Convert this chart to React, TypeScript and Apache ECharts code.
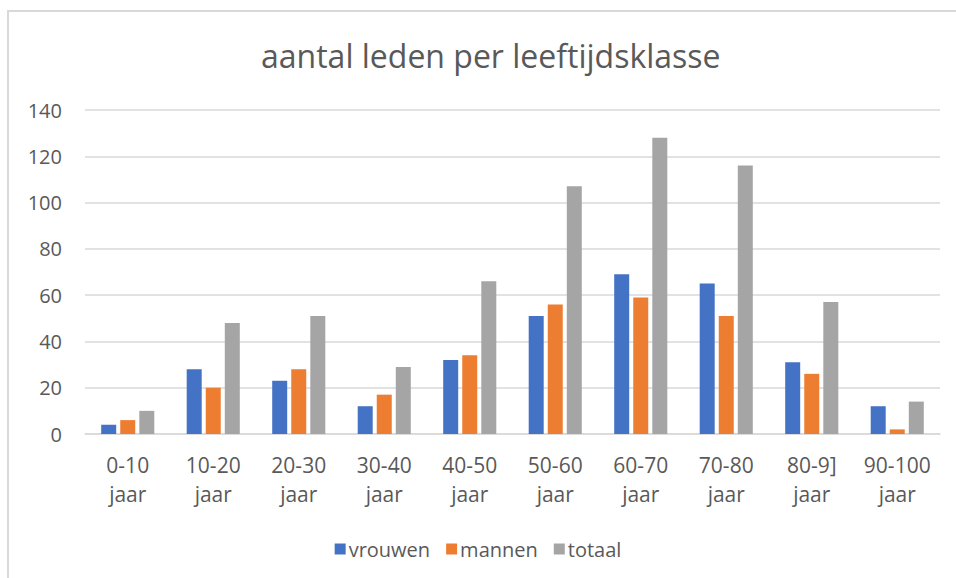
import React, { useEffect, useRef } from "react";
import * as echarts from "echarts";

const categories = [
  "0-10 jaar",
  "10-20 jaar",
  "20-30 jaar",
  "30-40 jaar",
  "40-50 jaar",
  "50-60 jaar",
  "60-70 jaar",
  "70-80 jaar",
  "80-9] jaar",
  "90-100 jaar",
];
const vrouwen = [4, 28, 23, 12, 32, 51, 69, 65, 31, 12];
const mannen = [6, 20, 28, 17, 34, 56, 59, 51, 26, 2];
const totaal = [10, 48, 51, 29, 66, 107, 128, 116, 57, 14];

const FONT = "'Open Sans', 'Noto Sans', sans-serif";
const TXT = "#595959";
const GRID = "#d9d9d9";

export default function App() {
  const ref = useRef<HTMLDivElement>(null);
  useEffect(() => {
    if (!ref.current) return;
    const chart = echarts.init(ref.current, undefined, { renderer: "svg" });
    const bar = (name: string, data: number[], color: string) => ({
      name,
      type: "bar",
      data,
      barWidth: 15,
      barGap: "27%",
      itemStyle: { color },
    });
    chart.setOption({
      animation: false,
      backgroundColor: "#ffffff",
      textStyle: { fontFamily: FONT },
      title: {
        text: "aantal leden per leeftijdsklasse",
        left: 256,
        top: 34,
        textStyle: { fontFamily: FONT, fontSize: 32, fontWeight: "normal", color: TXT },
      },
      graphic: [
        {
          type: "rect",
          shape: { x: 8, y: 11, width: 960, height: 600 },
          style: { fill: "none", stroke: GRID, lineWidth: 2 },
          silent: true,
        },
      ],
      legend: {
        top: 534,
        left: "center",
        icon: "rect",
        itemWidth: 11,
        itemHeight: 11,
        itemGap: 16,
        textStyle: { fontFamily: FONT, fontSize: 20, color: TXT, padding: [0, 0, 0, -2] },
        data: ["vrouwen", "mannen", "totaal"],
      },
      grid: { left: 85, right: 16, top: 110, bottom: 144 },
      xAxis: {
        type: "category",
        data: categories,
        axisTick: { show: false },
        axisLine: { lineStyle: { color: GRID, width: 1.5 } },
        axisLabel: {
          interval: 0,
          margin: 16,
          fontFamily: FONT,
          fontSize: 21,
          lineHeight: 29,
          color: TXT,
          formatter: (v: string) => v.replace(" ", "\n"),
        },
      },
      yAxis: {
        type: "value",
        min: 0,
        max: 140,
        interval: 20,
        axisLine: { show: false },
        axisTick: { show: false },
        splitLine: { lineStyle: { color: GRID, width: 1.5 } },
        axisLabel: { margin: 23, fontFamily: FONT, fontSize: 20, color: TXT },
      },
      series: [
        bar("vrouwen", vrouwen, "#4472C4"),
        bar("mannen", mannen, "#ED7D31"),
        bar("totaal", totaal, "#A5A5A5"),
      ],
    });
    return () => chart.dispose();
  }, []);
  return (
    <div
      ref={ref}
      style={{ position: "fixed", left: 0, top: 0, width: 956, height: 578 }}
    />
  );
}
